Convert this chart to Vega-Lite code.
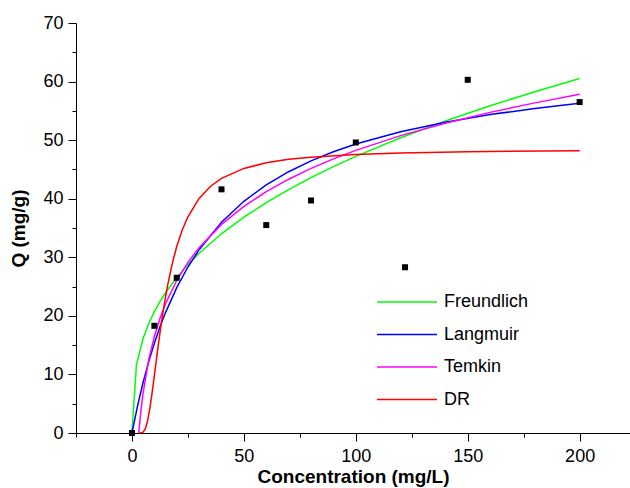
{
  "$schema": "https://vega.github.io/schema/vega-lite/v6.json",
  "width": 554,
  "height": 410,
  "autosize": {"type": "none"},
  "padding": {"left": 76, "top": 23, "right": 0, "bottom": 55},
  "config": {
    "font": "Liberation Sans",
    "view": {"stroke": null},
    "axis": {
      "grid": false,
      "domainColor": "black",
      "domainWidth": 1,
      "tickColor": "black",
      "tickWidth": 1,
      "labelColor": "black",
      "titleColor": "black",
      "labelFontSize": 18,
      "titleFontSize": 19,
      "titleFontWeight": "bold",
      "labelFont": "Liberation Sans",
      "titleFont": "Liberation Sans"
    }
  },
  "datasets": {
    "points": [
      {"C": 0, "Q": 0},
      {"C": 10, "Q": 18.3},
      {"C": 20, "Q": 26.5},
      {"C": 40, "Q": 41.6},
      {"C": 60, "Q": 35.5},
      {"C": 80, "Q": 39.7},
      {"C": 100, "Q": 49.6},
      {"C": 122, "Q": 28.3},
      {"C": 150, "Q": 60.3},
      {"C": 200, "Q": 56.5}
    ],
    "curves": [
      {"model": "Freundlich", "C": 0, "Q": 0},
      {"model": "Freundlich", "C": 2, "Q": 11.64},
      {"model": "Freundlich", "C": 5, "Q": 16.16},
      {"model": "Freundlich", "C": 7.5, "Q": 18.68},
      {"model": "Freundlich", "C": 10, "Q": 20.71},
      {"model": "Freundlich", "C": 12.5, "Q": 22.43},
      {"model": "Freundlich", "C": 15, "Q": 23.94},
      {"model": "Freundlich", "C": 20, "Q": 26.54},
      {"model": "Freundlich", "C": 25, "Q": 28.74},
      {"model": "Freundlich", "C": 30, "Q": 30.68},
      {"model": "Freundlich", "C": 40, "Q": 34.01},
      {"model": "Freundlich", "C": 50, "Q": 36.84},
      {"model": "Freundlich", "C": 60, "Q": 39.32},
      {"model": "Freundlich", "C": 70, "Q": 41.56},
      {"model": "Freundlich", "C": 80, "Q": 43.59},
      {"model": "Freundlich", "C": 90, "Q": 45.47},
      {"model": "Freundlich", "C": 100, "Q": 47.22},
      {"model": "Freundlich", "C": 120, "Q": 50.40},
      {"model": "Freundlich", "C": 140, "Q": 53.26},
      {"model": "Freundlich", "C": 160, "Q": 55.87},
      {"model": "Freundlich", "C": 180, "Q": 58.27},
      {"model": "Freundlich", "C": 200, "Q": 60.51},
      {"model": "Langmuir", "C": 0, "Q": 0},
      {"model": "Langmuir", "C": 2.5, "Q": 4.64},
      {"model": "Langmuir", "C": 5, "Q": 8.67},
      {"model": "Langmuir", "C": 7.5, "Q": 12.19},
      {"model": "Langmuir", "C": 10, "Q": 15.31},
      {"model": "Langmuir", "C": 12.5, "Q": 18.08},
      {"model": "Langmuir", "C": 15, "Q": 20.56},
      {"model": "Langmuir", "C": 20, "Q": 24.82},
      {"model": "Langmuir", "C": 25, "Q": 28.34},
      {"model": "Langmuir", "C": 30, "Q": 31.30},
      {"model": "Langmuir", "C": 40, "Q": 35.99},
      {"model": "Langmuir", "C": 50, "Q": 39.56},
      {"model": "Langmuir", "C": 60, "Q": 42.35},
      {"model": "Langmuir", "C": 70, "Q": 44.61},
      {"model": "Langmuir", "C": 80, "Q": 46.46},
      {"model": "Langmuir", "C": 90, "Q": 48.01},
      {"model": "Langmuir", "C": 100, "Q": 49.33},
      {"model": "Langmuir", "C": 120, "Q": 51.44},
      {"model": "Langmuir", "C": 140, "Q": 53.07},
      {"model": "Langmuir", "C": 160, "Q": 54.36},
      {"model": "Langmuir", "C": 180, "Q": 55.41},
      {"model": "Langmuir", "C": 200, "Q": 56.28},
      {"model": "Temkin", "C": 3.03, "Q": 0},
      {"model": "Temkin", "C": 4, "Q": 3.83},
      {"model": "Temkin", "C": 5, "Q": 6.91},
      {"model": "Temkin", "C": 7.5, "Q": 12.51},
      {"model": "Temkin", "C": 10, "Q": 16.48},
      {"model": "Temkin", "C": 12.5, "Q": 19.55},
      {"model": "Temkin", "C": 15, "Q": 22.07},
      {"model": "Temkin", "C": 20, "Q": 26.04},
      {"model": "Temkin", "C": 25, "Q": 29.12},
      {"model": "Temkin", "C": 30, "Q": 31.64},
      {"model": "Temkin", "C": 40, "Q": 35.61},
      {"model": "Temkin", "C": 50, "Q": 38.69},
      {"model": "Temkin", "C": 60, "Q": 41.20},
      {"model": "Temkin", "C": 70, "Q": 43.33},
      {"model": "Temkin", "C": 80, "Q": 45.17},
      {"model": "Temkin", "C": 90, "Q": 46.80},
      {"model": "Temkin", "C": 100, "Q": 48.25},
      {"model": "Temkin", "C": 120, "Q": 50.77},
      {"model": "Temkin", "C": 140, "Q": 52.89},
      {"model": "Temkin", "C": 160, "Q": 54.74},
      {"model": "Temkin", "C": 180, "Q": 56.36},
      {"model": "Temkin", "C": 200, "Q": 57.82},
      {"model": "DR", "C": 3.6, "Q": 0},
      {"model": "DR", "C": 5, "Q": 0.14},
      {"model": "DR", "C": 6, "Q": 0.74},
      {"model": "DR", "C": 7, "Q": 2.10},
      {"model": "DR", "C": 8, "Q": 4.21},
      {"model": "DR", "C": 9, "Q": 6.86},
      {"model": "DR", "C": 10, "Q": 9.78},
      {"model": "DR", "C": 11, "Q": 12.77},
      {"model": "DR", "C": 12, "Q": 15.67},
      {"model": "DR", "C": 13, "Q": 18.41},
      {"model": "DR", "C": 14, "Q": 20.94},
      {"model": "DR", "C": 15, "Q": 23.25},
      {"model": "DR", "C": 16, "Q": 25.35},
      {"model": "DR", "C": 18, "Q": 28.93},
      {"model": "DR", "C": 20, "Q": 31.83},
      {"model": "DR", "C": 22.5, "Q": 34.70},
      {"model": "DR", "C": 25, "Q": 36.92},
      {"model": "DR", "C": 30, "Q": 40.06},
      {"model": "DR", "C": 35, "Q": 42.09},
      {"model": "DR", "C": 40, "Q": 43.48},
      {"model": "DR", "C": 50, "Q": 45.17},
      {"model": "DR", "C": 60, "Q": 46.13},
      {"model": "DR", "C": 70, "Q": 46.72},
      {"model": "DR", "C": 80, "Q": 47.10},
      {"model": "DR", "C": 100, "Q": 47.56},
      {"model": "DR", "C": 120, "Q": 47.82},
      {"model": "DR", "C": 150, "Q": 48.03},
      {"model": "DR", "C": 200, "Q": 48.19}
    ]
  },
  "encoding": {
    "x": {
      "field": "C",
      "type": "quantitative",
      "scale": {"domain": [-25, 222.5], "nice": false, "zero": false},
      "axis": {
        "title": "Concentration (mg/L)",
        "values": [-25, 0, 25, 50, 75, 100, 125, 150, 175, 200],
        "labelExpr": "datum.value % 50 === 0 ? datum.label : ''",
        "tickSize": {"expr": "datum.value % 50 === 0 ? 8 : 4"},
        "labelPadding": 6,
        "titlePadding": 2
      }
    },
    "y": {
      "field": "Q",
      "type": "quantitative",
      "scale": {"domain": [0, 70], "nice": false},
      "axis": {
        "title": "Q (mg/g)",
        "values": [0, 5, 10, 15, 20, 25, 30, 35, 40, 45, 50, 55, 60, 65, 70],
        "labelExpr": "datum.value % 10 === 0 ? datum.label : ''",
        "tickSize": {"expr": "datum.value % 10 === 0 ? 8 : 4"},
        "labelPadding": 5,
        "titlePadding": 14
      }
    }
  },
  "layer": [
    {
      "data": {"name": "curves"},
      "mark": {"type": "line", "strokeWidth": 1.5},
      "encoding": {
        "color": {
          "field": "model",
          "type": "nominal",
          "scale": {
            "domain": ["Freundlich", "Langmuir", "Temkin", "DR"],
            "range": ["#00ff00", "#0000ff", "#ff00ff", "#ff0000"]
          },
          "legend": {
            "orient": "none",
            "legendX": 300,
            "legendY": 263,
            "title": null,
            "symbolType": "stroke",
            "symbolSize": 3600,
            "symbolStrokeWidth": 1.5,
            "clipHeight": 32,
            "labelFontSize": 18,
            "labelColor": "black",
            "labelOffset": 6,
            "rowPadding": 0.5,
            "padding": 0
          }
        }
      }
    },
    {
      "data": {"name": "points"},
      "mark": {"type": "square", "filled": true, "color": "black", "size": 36, "opacity": 1}
    }
  ]
}
